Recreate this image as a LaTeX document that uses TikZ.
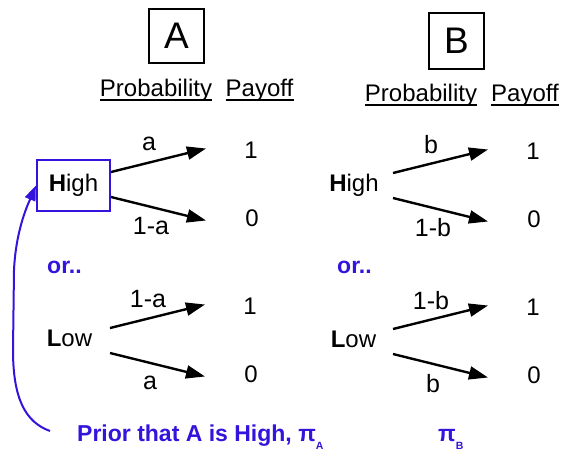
\documentclass[tikz,border=0pt]{standalone}
\usepackage{fontspec}
\setmainfont{Liberation Sans}
\usetikzlibrary{positioning,arrows.meta,calc}
\definecolor{priorblue}{RGB}{51,20,220}

\tikzset{
  txt/.style={font=\fontsize{24}{24}\selectfont, inner sep=0pt},
  prob/.style={font=\fontsize{25}{25}\selectfont, inner sep=0pt},
  heading/.style={txt, anchor=base},
  letterbox/.style={draw, line width=2.2pt, minimum width=55pt, minimum height=54pt,
    font=\fontsize{37}{37}\selectfont},
  branch/.style={line width=2.4pt, -{Triangle[length=19pt,width=13pt]}},
  bluetxt/.style={font=\bfseries\fontsize{23}{23}\selectfont, text=priorblue, inner sep=0pt},
}

\begin{document}
\begin{tikzpicture}[x=1pt, y=-1pt]
\useasboundingbox (0,0) rectangle (562,451);
%
    \node[letterbox] (boxA) at (176.5,36) {A};
    \node[letterbox, minimum height=56pt] (boxB) at (456.5,41) {B};
%
    \node[heading] (probA) at (156,96) {Probability};
    \node[heading] (payA)  at (259.5,96) {Payoff};
    \node[heading] (probB) at (421,101) {Probability};
    \node[heading] (payB)  at (525,101) {Payoff};
    \foreach \h in {probA,payA,probB,payB}
      \draw[line width=1.3pt] ([yshift=-4pt]\h.base west) -- ([yshift=-4pt]\h.base east);
%
    \node[txt, draw=priorblue, line width=2.2pt, minimum width=73pt, minimum height=51pt]
      (highA) at (73.5,185.5) {\textbf{H}igh};
    \node[txt] (lowA)  at (69.5,338) {\textbf{L}ow};
    \node[txt] (highB) at (354,185) {\textbf{H}igh};
    \node[txt] (lowB)  at (353.5,339) {\textbf{L}ow};
    \node[bluetxt] (orA) at (64.5,267) {or..};
    \node[bluetxt] (orB) at (354.5,267) {or..};
%
    \foreach \s/\ax/\ay/\lt/\lb in {highA/111/184.5/a/1-a, lowA/110/340.5/1-a/a,
                                    highB/393/185.5/b/1-b, lowB/393/341.5/1-b/b} {
      \coordinate (\s-u0) at (\ax,\ay-12.5);
      \coordinate (\s-u1) at (\ax+95,\ay-36);
      \coordinate (\s-d0) at (\ax,\ay+12.5);
      \coordinate (\s-d1) at (\ax+95,\ay+36);
      \node[txt] (\s-one)  at (\ax+140,\ay-34) {1};
      \node[txt] (\s-zero) at (\ax+141,\ay+34) {0};
      \draw[branch] (\s-u0) -- (\s-u1);
      \draw[branch] (\s-d0) -- (\s-d1);
      \node[prob] (\s-pu) at (\ax+38,\ay-41) {\lt};
      \node[prob] (\s-pd) at (\ax+40,\ay+42) {\lb};
    }
%
    \node[bluetxt, anchor=base west] (prior) at (77,441.5)
      {Prior that A is High, π\raisebox{-8pt}{\fontsize{10.5}{10.5}\selectfont A}};
    \node[bluetxt, anchor=base west] (piB) at (438,441.5)
      {π\raisebox{-8pt}{\fontsize{10.5}{10.5}\selectfont B}};
%
    \draw[priorblue, line width=2pt, -{Triangle[length=15pt,width=11pt]}]
      ([xshift=-27pt,yshift=10.5pt]prior.base west) .. controls (25,422) and (13,398) .. (13,350)
      -- (14,270) .. controls (16,228) and (29,202) .. (highA.west);
\end{tikzpicture}
\end{document}
